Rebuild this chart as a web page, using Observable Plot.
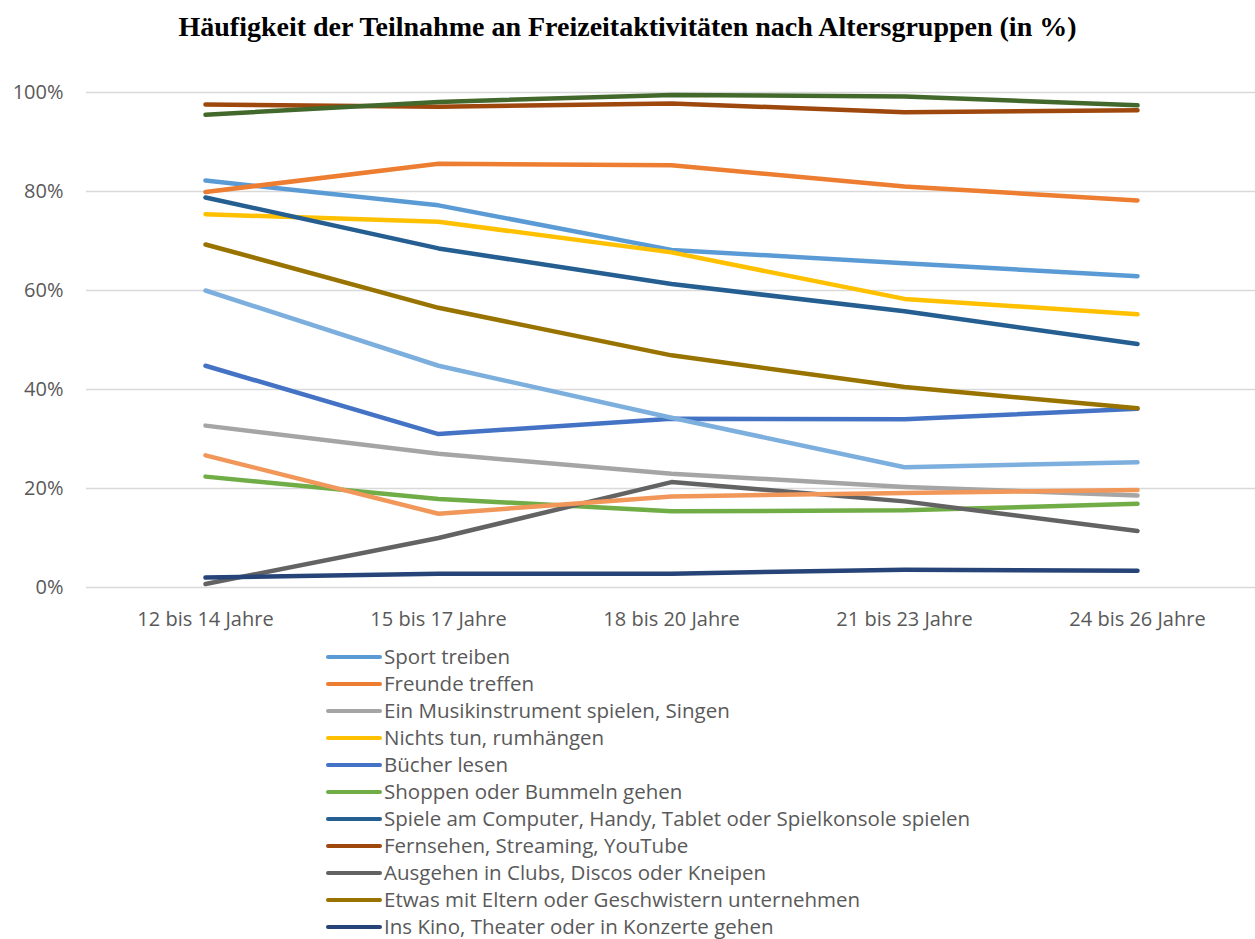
<!DOCTYPE html>
<html>
<head>
<meta charset="utf-8">
<script src="https://cdn.jsdelivr.net/npm/d3@7"></script>
<script src="https://cdn.jsdelivr.net/npm/@observablehq/plot@0.6"></script>
<style>
  body { margin: 0; background: #fff; width: 1255px; height: 939px; overflow: hidden; position: relative; }
  #title { height: 56px; line-height: 54px; text-align: center; font-family: "Liberation Serif", "DejaVu Serif", serif; font-weight: bold; font-size: 28px; color: #000; }
  #legend { position: absolute; left: 326px; top: 643px; font-family: "Open Sans", sans-serif; font-size: 20.5px; color: #595959; }
  .item { height: 27px; display: flex; align-items: center; white-space: nowrap; }
  .item span.tx { line-height: 1; }
  .sw { width: 56px; height: 4px; border-radius: 2px; margin-right: 2px; }
</style>
</head>
<body>
<div id="title">Häufigkeit der Teilnahme an Freizeitaktivitäten nach Altersgruppen (in %)</div>
<div id="chart"></div>
<div id="legend"></div>
<script>
const ageGroups = ["12 bis 14 Jahre", "15 bis 17 Jahre", "18 bis 20 Jahre", "21 bis 23 Jahre", "24 bis 26 Jahre"];

const seriesNames = [
  "Sport treiben",
  "Freunde treffen",
  "Ein Musikinstrument spielen, Singen",
  "Nichts tun, rumhängen",
  "Bücher lesen",
  "Shoppen oder Bummeln gehen",
  "Spiele am Computer, Handy, Tablet oder Spielkonsole spielen",
  "Fernsehen, Streaming, YouTube",
  "Ausgehen in Clubs, Discos oder Kneipen",
  "Etwas mit Eltern oder Geschwistern unternehmen",
  "Ins Kino, Theater oder in Konzerte gehen",
  "Serie 12",
  "Serie 13",
  "Serie 14"
];
// number of series named in the visible legend
const legendCount = 11;

const seriesColors = ["#5B9BD5", "#ED7D31", "#A5A5A5", "#FFC000", "#4472C4", "#70AD47",
  "#255E91", "#9E480E", "#636363", "#997300", "#264478", "#43682B", "#7CAFDD", "#F1975A"];

// values in % per age group
const sport      = [82.2, 77.2, 68.2, 65.5, 62.9];
const freunde    = [79.9, 85.6, 85.3, 81.0, 78.2];
const musik      = [32.7, 27.0, 23.0, 20.3, 18.6];
const nichts     = [75.4, 73.9, 67.7, 58.3, 55.2];
const buecher    = [44.8, 31.0, 34.1, 34.0, 36.1];
const shoppen    = [22.4, 17.9, 15.4, 15.6, 16.9];
const spiele     = [78.8, 68.5, 61.3, 55.8, 49.2];
const fernsehen  = [97.6, 97.1, 97.8, 96.0, 96.4];
const ausgehen   = [0.7, 10.0, 21.3, 17.4, 11.4];
const eltern     = [69.3, 56.5, 46.9, 40.5, 36.2];
const kino       = [2.0, 2.8, 2.8, 3.6, 3.4];
const serie12    = [95.5, 98.1, 99.5, 99.2, 97.4];
const serie13    = [60.0, 44.8, 34.3, 24.3, 25.3];
const serie14    = [26.7, 14.9, 18.4, 19.1, 19.7];

const allValues = [sport, freunde, musik, nichts, buecher, shoppen, spiele, fernsehen, ausgehen, eltern, kino, serie12, serie13, serie14];

const yTicks = [0, 0.2, 0.4, 0.6, 0.8, 1.0];

const rows = [];
allValues.forEach((vals, si) => {
  vals.forEach((v, i) => rows.push({series: seriesNames[si], age: ageGroups[i], value: v / 100, order: si}));
});

const chart = Plot.plot({
  width: 1255,
  height: 581,
  marginLeft: 86,
  marginRight: 0,
  marginTop: 36,
  marginBottom: 50,
  style: { fontFamily: "Open Sans, sans-serif", fontSize: "20px", color: "#595959", background: "#fff" },
  x: { type: "point", domain: ageGroups, padding: 0.5, label: null, tickSize: 0, tickPadding: 24 },
  y: { domain: [0, 1], ticks: yTicks, tickFormat: d3.format(".0%"), tickSize: 0, tickPadding: 23, label: null },
  color: { domain: seriesNames, range: seriesColors },
  marks: [
    Plot.ruleY(yTicks, { stroke: "#d9d9d9", strokeWidth: 1.5 }),
    Plot.line(rows, { x: "age", y: "value", z: "series", stroke: "series", strokeWidth: 4.5, strokeLinecap: "round", strokeLinejoin: "round" })
  ]
});
document.getElementById("chart").appendChild(chart);

const legend = document.getElementById("legend");
seriesNames.slice(0, legendCount).forEach((name, i) => {
  const it = document.createElement("div");
  it.className = "item";
  const sw = document.createElement("span");
  sw.className = "sw";
  sw.style.background = seriesColors[i];
  const tx = document.createElement("span");
  tx.className = "tx";
  tx.textContent = name;
  it.appendChild(sw); it.appendChild(tx);
  legend.appendChild(it);
});
</script>
</body>
</html>
